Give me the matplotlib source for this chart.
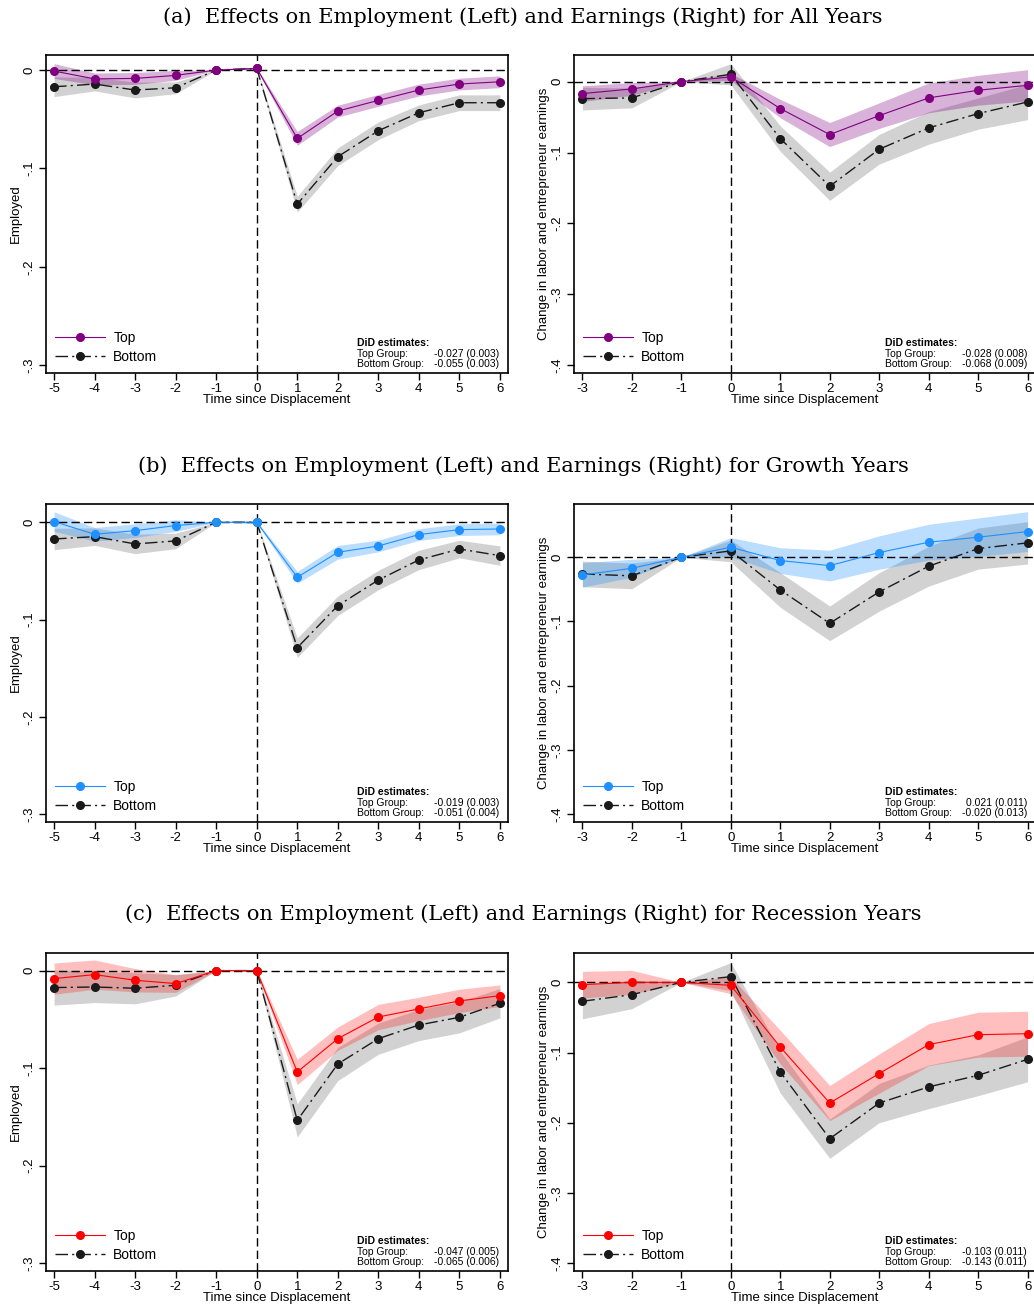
import numpy as np
import matplotlib
matplotlib.use('Agg')
import matplotlib.pyplot as plt

plt.rcParams['font.family'] = ['Liberation Sans', 'DejaVu Sans']

# event time
t_emp = [-5, -4, -3, -2, -1, 0, 1, 2, 3, 4, 5, 6]
t_earn = [-3, -2, -1, 0, 1, 2, 3, 4, 5, 6]

# (a) all years
a_emp_top = [-0.001, -0.009, -0.0085, -0.0054, 0, 0.0017, -0.0695, -0.0417, -0.0308, -0.0203, -0.0142, -0.0119]
a_emp_top_ci = [0.0075, 0.006, 0.006, 0.005, 0, 0.001, 0.007, 0.006, 0.006, 0.006, 0.006, 0.006]
a_emp_bot = [-0.017, -0.0142, -0.0203, -0.018, 0, 0.0017, -0.1363, -0.0881, -0.0617, -0.0434, -0.0332, -0.0332]
a_emp_bot_ci = [0.01, 0.007, 0.008, 0.006, 0, 0.001, 0.008, 0.009, 0.009, 0.008, 0.008, 0.008]
a_earn_top = [-0.0169, -0.0103, 0, 0.0066, -0.038, -0.0747, -0.048, -0.023, -0.0122, -0.0052]
a_earn_top_ci = [0.011, 0.009, 0, 0.005, 0.013, 0.017, 0.018, 0.021, 0.021, 0.022]
a_earn_bot = [-0.024, -0.023, 0, 0.0103, -0.0804, -0.1476, -0.0954, -0.0653, -0.0451, -0.0287]
a_earn_bot_ci = [0.016, 0.014, 0, 0.015, 0.018, 0.02, 0.021, 0.023, 0.022, 0.025]

# (b) growth years
b_emp_top = [0.0007, -0.0124, -0.0086, -0.0034, 0, 0, -0.0566, -0.0309, -0.0244, -0.0127, -0.0076, -0.0069]
b_emp_top_ci = [0.01, 0.007, 0.007, 0.006, 0, 0.001, 0.006, 0.007, 0.006, 0.006, 0.006, 0.006]
b_emp_bot = [-0.0172, -0.0148, -0.0223, -0.0192, 0, 0, -0.129, -0.0858, -0.0594, -0.0388, -0.0275, -0.0343]
b_emp_bot_ci = [0.011, 0.009, 0.01, 0.008, 0, 0.001, 0.01, 0.01, 0.01, 0.01, 0.009, 0.01]
b_earn_top = [-0.0276, -0.0172, 0, 0.0156, -0.0052, -0.013, 0.0073, 0.0234, 0.0312, 0.04]
b_earn_top_ci = [0.019, 0.014, 0, 0.015, 0.02, 0.024, 0.026, 0.028, 0.03, 0.031]
b_earn_bot = [-0.026, -0.029, 0, 0.0099, -0.051, -0.103, -0.054, -0.014, 0.0135, 0.0224]
b_earn_bot_ci = [0.02, 0.02, 0, 0.017, 0.027, 0.027, 0.03, 0.031, 0.032, 0.033]

# (c) recession years
c_emp_top = [-0.0082, -0.0041, -0.0099, -0.0133, 0, 0, -0.104, -0.0698, -0.0476, -0.0393, -0.0311, -0.0257]
c_emp_top_ci = [0.016, 0.015, 0.012, 0.009, 0, 0.001, 0.013, 0.012, 0.013, 0.012, 0.012, 0.011]
c_emp_bot = [-0.0174, -0.0168, -0.0181, -0.015, 0, 0, -0.1536, -0.0958, -0.0698, -0.0558, -0.0479, -0.0335]
c_emp_bot_ci = [0.018, 0.016, 0.016, 0.011, 0, 0.001, 0.017, 0.017, 0.016, 0.016, 0.016, 0.015]
c_earn_top = [-0.0033, 0.0, 0, -0.0043, -0.0922, -0.172, -0.13, -0.0888, -0.0746, -0.0732]
c_earn_top_ci = [0.019, 0.017, 0, 0.012, 0.024, 0.025, 0.028, 0.03, 0.032, 0.032]
c_earn_bot = [-0.027, -0.0176, 0, 0.0081, -0.1278, -0.2228, -0.172, -0.149, -0.1325, -0.1097]
c_earn_bot_ci = [0.025, 0.02, 0, 0.02, 0.03, 0.028, 0.028, 0.031, 0.029, 0.032]

# DiD estimates (top, bottom) per panel
did = {
    'a_emp': ('-0.027 (0.003)', '-0.055 (0.003)'),
    'a_earn': ('-0.028 (0.008)', '-0.068 (0.009)'),
    'b_emp': ('-0.019 (0.003)', '-0.051 (0.004)'),
    'b_earn': ('0.021 (0.011)', '-0.020 (0.013)'),
    'c_emp': ('-0.047 (0.005)', '-0.065 (0.006)'),
    'c_earn': ('-0.103 (0.011)', '-0.143 (0.011)'),
}

titles = ['(a)  Effects on Employment (Left) and Earnings (Right) for All Years',
          '(b)  Effects on Employment (Left) and Earnings (Right) for Growth Years',
          '(c)  Effects on Employment (Left) and Earnings (Right) for Recession Years']

W, H = 1034, 1307
fig = plt.figure(figsize=(W / 100, H / 100), dpi=100)


def fmt(v):
    if abs(v) < 1e-9:
        return '0'
    return ('%.1f' % v).replace('0.', '.')


def panel(ax, t, top, top_ci, bot, bot_ci, color, band_alpha, xlim, ylim, yticks, ylabel, est):
    t = np.array(t)
    top, top_ci = np.array(top), np.array(top_ci)
    bot, bot_ci = np.array(bot), np.array(bot_ci)
    ax.fill_between(t, bot - bot_ci, bot + bot_ci, color='#808080', alpha=0.35, lw=0, zorder=1)
    ax.fill_between(t, top - top_ci, top + top_ci, color=color, alpha=band_alpha, lw=0, zorder=1.5)
    ax.axhline(0, color='black', lw=1, ls=(0, (6, 3)), zorder=2)
    ax.axvline(0, color='black', lw=1, ls=(0, (6, 3)), zorder=2)
    ax.plot(t, top, color=color, lw=0.8, marker='o', ms=5.5, mec=color, mfc=color,
            label='Top', zorder=4)
    ax.plot(t, bot, color='#1a1a1a', lw=1, ls=(0, (9, 3, 1.5, 3)), marker='o', ms=5.5,
            label='Bottom', zorder=3)
    ax.set_xlim(*xlim)
    ax.set_ylim(*ylim)
    ax.set_xticks(t)
    ax.set_xticklabels([str(v) for v in t], fontsize=9.5)
    ax.set_yticks(yticks)
    ax.set_yticklabels([fmt(v) for v in yticks], fontsize=9.5, rotation=90, va='center')
    ax.tick_params(direction='out', length=5, width=1, pad=2.5)
    ax.set_xlabel('Time since Displacement', fontsize=9.5, labelpad=-1)
    ax.set_ylabel(ylabel, fontsize=9.5, labelpad=1)
    for s in ax.spines.values():
        s.set_linewidth(1.2)
    ax.legend(loc='lower left', frameon=False, fontsize=10, handlelength=3.6,
              borderaxespad=0.25, labelspacing=0.35, handletextpad=0.6)
    ax.text(0.673, 0.094, 'DiD estimates:', transform=ax.transAxes, fontsize=7.5,
            fontweight='bold', va='center', ha='left')
    ax.text(0.673, 0.061, 'Top Group:', transform=ax.transAxes, fontsize=7.5, va='center', ha='left')
    ax.text(0.673, 0.028, 'Bottom Group:', transform=ax.transAxes, fontsize=7.5, va='center', ha='left')
    ax.text(0.981, 0.061, est[0], transform=ax.transAxes, fontsize=7.5, va='center', ha='right')
    ax.text(0.981, 0.028, est[1], transform=ax.transAxes, fontsize=7.5, va='center', ha='right')


rows = [
    (0.7146, 17, 'a', a_emp_top, a_emp_top_ci, a_emp_bot, a_emp_bot_ci,
     a_earn_top, a_earn_top_ci, a_earn_bot, a_earn_bot_ci, '#800080', 0.3,
     (-0.308, 0.0153), (-0.411, 0.0375)),
    (0.3711, 466, 'b', b_emp_top, b_emp_top_ci, b_emp_bot, b_emp_bot_ci,
     b_earn_top, b_earn_top_ci, b_earn_bot, b_earn_bot_ci, '#1e90ff', 0.3,
     (-0.3082, 0.0188), (-0.4125, 0.083)),
    (0.0275, 914, 'c', c_emp_top, c_emp_top_ci, c_emp_bot, c_emp_bot_ci,
     c_earn_top, c_earn_top_ci, c_earn_bot, c_earn_bot_ci, '#ff0000', 0.25,
     (-0.3082, 0.018), (-0.4114, 0.0417)),
]

for (bottom, ty, key, et, etc, eb, ebc, rt, rtc, rb, rbc, col, ba, yl_emp, yl_earn), title in zip(rows, titles):
    axl = fig.add_axes([46 / W, bottom, 462 / W, 318 / H])
    panel(axl, t_emp, et, etc, eb, ebc, col, ba, (-5.2, 6.2), yl_emp,
          [0, -0.1, -0.2, -0.3], 'Employed', did[key + '_emp'])
    axr = fig.add_axes([574 / W, bottom, 462 / W, 318 / H])
    panel(axr, t_earn, rt, rtc, rb, rbc, col, ba, (-3.17, 6.17), yl_earn,
          [0, -0.1, -0.2, -0.3, -0.4], 'Change in labor and entrepreneur earnings',
          did[key + '_earn'])
    fig.text(523 / W, 1 - ty / H, title, ha='center', va='center', fontsize=15,
             family=['DejaVu Serif'])

fig.savefig('out.png', dpi=100)
